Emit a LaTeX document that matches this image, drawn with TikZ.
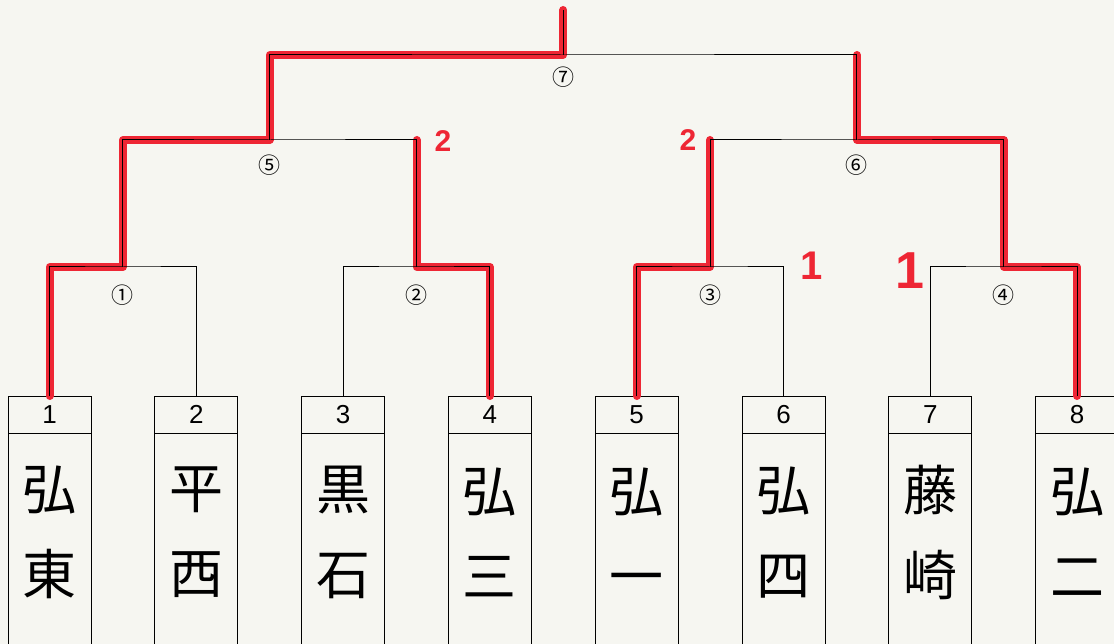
\documentclass[tikz,border=0pt]{standalone}
\usepackage{fontspec}
\setmainfont{Liberation Sans}
\newfontfamily\jpfont{Noto Sans CJK JP}
\usetikzlibrary{positioning, calc}
\definecolor{paper}{RGB}{246,246,241}
\definecolor{marker}{RGB}{238,38,52}
\tikzset{
  bracket/.style={
    line width=1pt,
    color=black
  },
  win line/.style={
    line width=8pt,
    color=marker,
    line cap=round,
    line join=round
  },
  team head/.style={
    draw,
    rectangle,
    line width=1pt,
    minimum width=83pt,
    minimum height=37pt,
    inner sep=0pt,
    outer sep=0pt,
    font=\fontsize{26}{26}\selectfont
  },
  team body/.style={
    draw,
    rectangle,
    line width=1pt,
    minimum width=83pt,
    minimum height=260pt,
    inner sep=0pt,
    outer sep=0pt
  },
  team name/.style={
    font=\jpfont\fontsize{54}{85}\selectfont,
    align=center,
    inner sep=0pt
  },
  match no/.style={
    font=\jpfont\fontsize{22}{22}\selectfont,
    inner sep=0pt
  },
  score/.style={
    color=marker,
    font=\bfseries\fontsize{30}{30}\selectfont,
    inner sep=0pt
  }
}

\begin{document}
\begin{tikzpicture}[x=1pt, y=-1pt]

  %% ---- 用紙 ----
  \clip (0,0) rectangle (1114,644);
  \fill[paper] (0,0) rectangle (1114,644);

  %% ---- 出場校の枠（番号欄＋校名欄）----
  \node[team head] (h1) at (49.5,414.5)   {1};
  \node[team head] (h2) at (196.3,414.5)  {2};
  \node[team head] (h3) at (343.1,414.5)  {3};
  \node[team head] (h4) at (489.9,414.5)  {4};
  \node[team head] (h5) at (636.7,414.5)  {5};
  \node[team head] (h6) at (783.5,414.5)  {6};
  \node[team head] (h7) at (930.3,414.5)  {7};
  \node[team head] (h8) at (1077.1,414.5) {8};
  \node[team body, below=0pt of h1] (b1) {};
  \node[team body, below=0pt of h2] (b2) {};
  \node[team body, below=0pt of h3] (b3) {};
  \node[team body, below=0pt of h4] (b4) {};
  \node[team body, below=0pt of h5] (b5) {};
  \node[team body, below=0pt of h6] (b6) {};
  \node[team body, below=0pt of h7] (b7) {};
  \node[team body, below=0pt of h8] (b8) {};

  % 校名（縦書き）
  \node[team name] (n1) at (49.5,532.5)   {弘\\東};
  \node[team name] (n2) at (196.3,532.5)  {平\\西};
  \node[team name] (n3) at (343.1,532.5)  {黒\\石};
  \node[team name] (n4) at (489.9,532.5)  {弘\\三};
  \node[team name] (n5) at (636.7,532.5)  {弘\\一};
  \node[team name] (n6) at (783.5,532.5)  {弘\\四};
  \node[team name] (n7) at (930.3,532.5)  {藤\\崎};
  \node[team name] (n8) at (1077.1,532.5) {弘\\二};

  %% ---- 試合の合流点 ----
  \coordinate (m1) at (122.9,267);
  \coordinate (m2) at (416.5,267);
  \coordinate (m3) at (710.1,267);
  \coordinate (m4) at (1003.7,267);
  \coordinate (m5) at (269.7,140);
  \coordinate (m6) at (856.9,140);
  \coordinate (m7) at (563.3,55);
  \coordinate (champ) at (563.3,10);

  %% ---- 勝ち上がり（赤マーカー）----
  \draw[win line] (h1.north) |- (m1) |- (m5) |- (m7) -- (champ);
  \draw[win line] (h4.north) |- (m2) -- (m2 |- m5);
  \draw[win line] (h5.north) |- (m3) -- (m3 |- m6);
  \draw[win line] (h8.north) |- (m4) |- (m6) -- (m6 |- m7);

  %% ---- トーナメント線 ----
  \draw[bracket] (h1.north) |- (m1) -| (h2.north);
  \draw[bracket] (h3.north) |- (m2) -| (h4.north);
  \draw[bracket] (h5.north) |- (m3) -| (h6.north);
  \draw[bracket] (h7.north) |- (m4) -| (h8.north);
  \draw[bracket] (m1) |- (m5) -| (m2);
  \draw[bracket] (m3) |- (m6) -| (m4);
  \draw[bracket] (m5) |- (m7) -| (m6);
  \draw[bracket] (m7) -- (champ);

  % 試合番号
  \node[match no, below=18pt of m1] (l1) {①};
  \node[match no, below=18pt of m2] (l2) {②};
  \node[match no, below=18pt of m3] (l3) {③};
  \node[match no, below=18pt of m4] (l4) {④};
  \node[match no, below=15pt of m5] (l5) {⑤};
  \node[match no, below=15pt of m6] (l6) {⑥};
  \node[match no, below=12pt of m7] (l7) {⑦};

  %% ---- 得点（赤字）----
  \node[score] (s2) at (443,141) {2};
  \node[score] (s5) at (688,140) {2};
  \node[score, font=\bfseries\fontsize{40}{40}\selectfont] (s3) at (812,266) {1};
  \node[score, font=\bfseries\fontsize{52}{52}\selectfont] (s4) at (910,271) {1};

\end{tikzpicture}
\end{document}
